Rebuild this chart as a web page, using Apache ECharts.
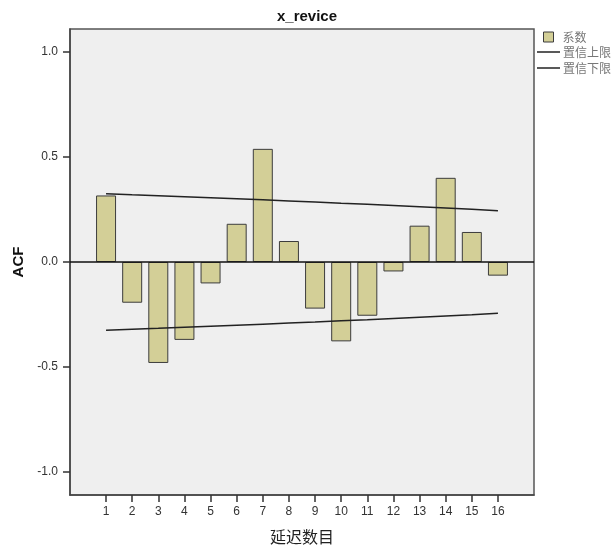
<!DOCTYPE html>
<html>
<head>
<meta charset="utf-8">
<script src="https://cdn.jsdelivr.net/npm/echarts@6/dist/echarts.min.js"></script>
<style>
html,body{margin:0;padding:0;background:#fff;}
#c{width:616px;height:550px;}
</style>
</head>
<body>
<div id="c"></div>
<script>
const lags = [1,2,3,4,5,6,7,8,9,10,11,12,13,14,15,16];
const acf = [0.317,-0.194,-0.481,-0.371,-0.102,0.182,0.539,0.100,-0.222,-0.378,-0.256,-0.045,0.173,0.401,0.143,-0.065];
const upperLimit = [0.325,0.320,0.316,0.311,0.306,0.301,0.296,0.291,0.286,0.280,0.275,0.269,0.263,0.257,0.251,0.244];
const lowerLimit = [-0.325,-0.320,-0.316,-0.311,-0.306,-0.301,-0.296,-0.291,-0.286,-0.280,-0.275,-0.269,-0.263,-0.257,-0.251,-0.244];
const yTicks = [-1.0,-0.5,0.0,0.5,1.0];
const titleText = 'x_revice';
const seriesNames = ['系数','置信上限','置信下限'];

const chart = echarts.init(document.getElementById('c'), null, {renderer:'canvas'});
const pair = arr => lags.map((l,i)=>[l, arr[i]]);
const option = {
  animation:false,
  backgroundColor:'#ffffff',
  title:{
    text:titleText, left:302, top:4, textAlign:'center',
    textStyle:{fontFamily:'Liberation Sans, Arial, sans-serif', fontSize:15, fontWeight:'bold', color:'#111'}
  },
  legend:[{
    data:[{name:seriesNames[0], icon:'rect'}], orient:'vertical', left:538, top:26,
    itemWidth:10, itemHeight:10,
    itemStyle:{borderColor:'#3c3c3c', borderWidth:1},
    textStyle:{fontFamily:'Noto Sans CJK SC', fontSize:12, color:'#777', padding:[0,0,0,4]}
  },{
    data:[{name:seriesNames[1], icon:'rect'}, {name:seriesNames[2], icon:'rect'}], orient:'vertical', left:532, top:41,
    itemWidth:23, itemHeight:1.5, itemGap:4,
    itemStyle:{borderWidth:0},
    textStyle:{fontFamily:'Noto Sans CJK SC', fontSize:12, color:'#777', padding:[0,0,0,-2]}
  }],
  grid:{left:70, right:82, top:29, bottom:55, show:true, backgroundColor:'#efefef', borderColor:'#555', borderWidth:1.5},
  xAxis:{
    type:'value', min:-0.38, max:17.38,
    name:'延迟数目', nameLocation:'middle', nameGap:34,
    nameTextStyle:{fontFamily:'Noto Sans CJK SC', fontSize:16, color:'#222'},
    axisLine:{show:true, onZero:false, lineStyle:{color:'#444', width:1.5}},
    axisTick:{show:true, length:7, customValues:lags, lineStyle:{color:'#333', width:1.5}},
    axisLabel:{customValues:lags, margin:11, fontFamily:'Liberation Sans, Arial, sans-serif', fontSize:12, color:'#333'},
    splitLine:{show:false}
  },
  yAxis:{
    type:'value', min:-1.11, max:1.11,
    name:'ACF', nameLocation:'middle', nameGap:37, nameRotate:90,
    nameTextStyle:{fontFamily:'Liberation Sans, Arial, sans-serif', fontSize:15, fontWeight:'bold', color:'#111'},
    axisLine:{show:true, onZero:false, lineStyle:{color:'#444', width:1.5}},
    axisTick:{show:true, length:7, customValues:yTicks, lineStyle:{color:'#333', width:1.5}},
    axisLabel:{customValues:yTicks, margin:12, formatter:v=>v.toFixed(1), fontFamily:'Liberation Sans, Arial, sans-serif', fontSize:12, color:'#333'},
    splitLine:{show:false}
  },
  series:[{
    name:seriesNames[0], type:'bar', data:pair(acf), barWidth:20,
    itemStyle:{color:'#d3cf97', borderColor:'#3c3c3c', borderWidth:1},
    markLine:{silent:true, symbol:['none','none'], label:{show:false},
      lineStyle:{color:'#111', type:'solid', width:1.5},
      data:[{yAxis:0}]},
    z:2
  },{
    name:seriesNames[1], type:'line', data:pair(upperLimit), symbol:'none',
    lineStyle:{color:'#222', width:1.5}, itemStyle:{color:'#222'}, z:3
  },{
    name:seriesNames[2], type:'line', data:pair(lowerLimit), symbol:'none',
    lineStyle:{color:'#222', width:1.5}, itemStyle:{color:'#222'}, z:3
  }]
};
chart.setOption(option);
</script>
</body>
</html>
